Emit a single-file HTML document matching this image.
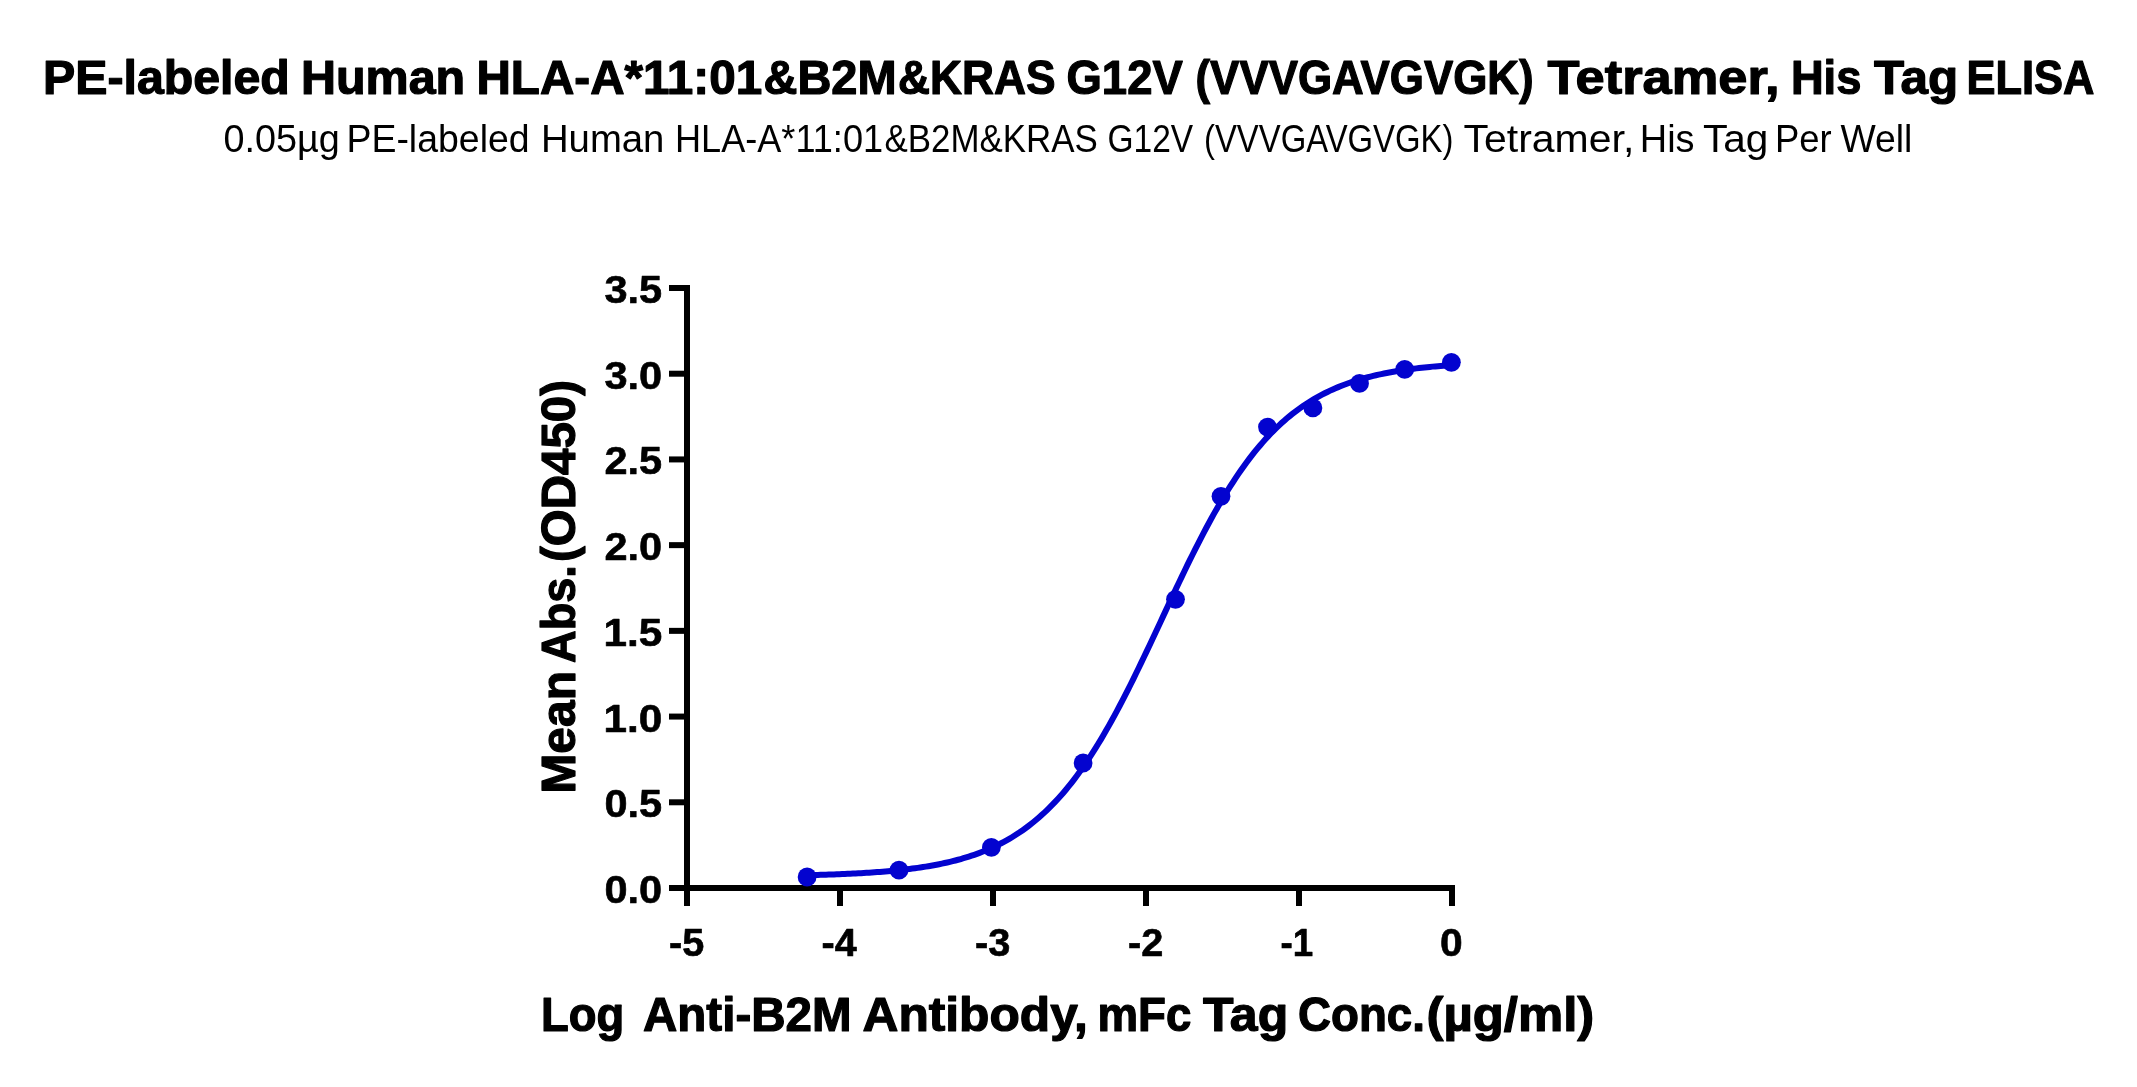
<!DOCTYPE html>
<html><head><meta charset="utf-8"><style>
html,body{margin:0;padding:0;background:#fff;overflow:hidden;}
svg{display:block;will-change:transform;}
text{font-family:"Liberation Sans",sans-serif;fill:#000;}
</style></head><body>
<svg width="2137" height="1087" viewBox="0 0 2137 1087">
<rect width="2137" height="1087" fill="#fff"/>
<g stroke="#000" stroke-width="6" fill="none"><line x1="687" y1="285" x2="687" y2="891"/><line x1="684" y1="888" x2="1455" y2="888"/><line x1="669" y1="888.00" x2="687" y2="888.00"/><line x1="669" y1="802.29" x2="687" y2="802.29"/><line x1="669" y1="716.57" x2="687" y2="716.57"/><line x1="669" y1="630.86" x2="687" y2="630.86"/><line x1="669" y1="545.14" x2="687" y2="545.14"/><line x1="669" y1="459.43" x2="687" y2="459.43"/><line x1="669" y1="373.71" x2="687" y2="373.71"/><line x1="669" y1="288.00" x2="687" y2="288.00"/><line x1="687.00" y1="888" x2="687.00" y2="906"/><line x1="840.00" y1="888" x2="840.00" y2="906"/><line x1="993.00" y1="888" x2="993.00" y2="906"/><line x1="1146.00" y1="888" x2="1146.00" y2="906"/><line x1="1299.00" y1="888" x2="1299.00" y2="906"/><line x1="1452.00" y1="888" x2="1452.00" y2="906"/></g>
<text x="42.99" y="93.65" font-size="47.46" font-weight="bold" stroke="#000" stroke-width="1.2" stroke-linejoin="round" textLength="246.84" lengthAdjust="spacingAndGlyphs">PE-labeled</text><text x="300.97" y="93.65" font-size="47.46" font-weight="bold" stroke="#000" stroke-width="1.2" stroke-linejoin="round" textLength="164.24" lengthAdjust="spacingAndGlyphs">Human</text><text x="476.51" y="93.65" font-size="47.46" font-weight="bold" stroke="#000" stroke-width="1.2" stroke-linejoin="round" textLength="285.62" lengthAdjust="spacingAndGlyphs">HLA-A*11:01</text><text x="763.47" y="93.65" font-size="47.46" font-weight="bold" stroke="#000" stroke-width="1.2" stroke-linejoin="round" textLength="133.14" lengthAdjust="spacingAndGlyphs">&amp;B2M</text><text x="898.01" y="93.65" font-size="47.46" font-weight="bold" stroke="#000" stroke-width="1.2" stroke-linejoin="round" textLength="157.60" lengthAdjust="spacingAndGlyphs">&amp;KRAS</text><text x="1066.50" y="93.65" font-size="47.46" font-weight="bold" stroke="#000" stroke-width="1.2" stroke-linejoin="round" textLength="116.29" lengthAdjust="spacingAndGlyphs">G12V</text><text x="1195.51" y="93.65" font-size="47.46" font-weight="bold" stroke="#000" stroke-width="1.2" stroke-linejoin="round" textLength="338.17" lengthAdjust="spacingAndGlyphs">(VVVGAVGVGK)</text><text x="1547.49" y="93.65" font-size="47.46" font-weight="bold" stroke="#000" stroke-width="1.2" stroke-linejoin="round" textLength="232.07" lengthAdjust="spacingAndGlyphs">Tetramer,</text><text x="1790.89" y="93.65" font-size="47.46" font-weight="bold" stroke="#000" stroke-width="1.2" stroke-linejoin="round" textLength="70.49" lengthAdjust="spacingAndGlyphs">His</text><text x="1874.00" y="93.65" font-size="47.46" font-weight="bold" stroke="#000" stroke-width="1.2" stroke-linejoin="round" textLength="84.16" lengthAdjust="spacingAndGlyphs">Tag</text><text x="1966.49" y="93.65" font-size="47.46" font-weight="bold" stroke="#000" stroke-width="1.2" stroke-linejoin="round" textLength="128.01" lengthAdjust="spacingAndGlyphs">ELISA</text><text x="223.47" y="151.70" font-size="39.40" textLength="116.32" lengthAdjust="spacingAndGlyphs">0.05µg</text><text x="346.47" y="151.70" font-size="39.40" textLength="183.11" lengthAdjust="spacingAndGlyphs">PE-labeled</text><text x="540.92" y="151.70" font-size="39.40" textLength="123.51" lengthAdjust="spacingAndGlyphs">Human</text><text x="674.99" y="151.70" font-size="39.40" textLength="208.09" lengthAdjust="spacingAndGlyphs">HLA-A*11:01</text><text x="884.51" y="151.70" font-size="39.40" textLength="213.20" lengthAdjust="spacingAndGlyphs">&amp;B2M&amp;KRAS</text><text x="1107.50" y="151.70" font-size="39.40" textLength="85.68" lengthAdjust="spacingAndGlyphs">G12V</text><text x="1204.00" y="151.70" font-size="39.40" textLength="249.39" lengthAdjust="spacingAndGlyphs">(VVVGAVGVGK)</text><text x="1463.49" y="151.70" font-size="39.40" textLength="170.86" lengthAdjust="spacingAndGlyphs">Tetramer,</text><text x="1639.79" y="151.70" font-size="39.40" textLength="54.81" lengthAdjust="spacingAndGlyphs">His</text><text x="1702.98" y="151.70" font-size="39.40" textLength="65.35" lengthAdjust="spacingAndGlyphs">Tag</text><text x="1774.89" y="151.70" font-size="39.40" textLength="56.72" lengthAdjust="spacingAndGlyphs">Per</text><text x="1840.48" y="151.70" font-size="39.40" textLength="71.96" lengthAdjust="spacingAndGlyphs">Well</text><text x="540.89" y="1031.00" font-size="47.38" font-weight="bold" stroke="#000" stroke-width="1.2" stroke-linejoin="round" textLength="83.29" lengthAdjust="spacingAndGlyphs">Log</text><text x="643.00" y="1031.00" font-size="47.38" font-weight="bold" stroke="#000" stroke-width="1.2" stroke-linejoin="round" textLength="208.60" lengthAdjust="spacingAndGlyphs">Anti-B2M</text><text x="862.50" y="1031.00" font-size="47.38" font-weight="bold" stroke="#000" stroke-width="1.2" stroke-linejoin="round" textLength="225.43" lengthAdjust="spacingAndGlyphs">Antibody,</text><text x="1097.47" y="1031.00" font-size="47.38" font-weight="bold" stroke="#000" stroke-width="1.2" stroke-linejoin="round" textLength="93.86" lengthAdjust="spacingAndGlyphs">mFc</text><text x="1203.00" y="1031.00" font-size="47.38" font-weight="bold" stroke="#000" stroke-width="1.2" stroke-linejoin="round" textLength="85.18" lengthAdjust="spacingAndGlyphs">Tag</text><text x="1297.97" y="1031.00" font-size="47.38" font-weight="bold" stroke="#000" stroke-width="1.2" stroke-linejoin="round" textLength="127.02" lengthAdjust="spacingAndGlyphs">Conc.</text><text x="1426.50" y="1031.00" font-size="47.38" font-weight="bold" stroke="#000" stroke-width="1.2" stroke-linejoin="round" textLength="167.79" lengthAdjust="spacingAndGlyphs">(µg/ml)</text><text transform="translate(574.50,793.56) rotate(-90)" font-size="47.38" font-weight="bold" stroke="#000" stroke-width="1.2" stroke-linejoin="round" textLength="122.46" lengthAdjust="spacingAndGlyphs">Mean</text><text transform="translate(574.50,663.01) rotate(-90)" font-size="47.38" font-weight="bold" stroke="#000" stroke-width="1.2" stroke-linejoin="round" textLength="97.95" lengthAdjust="spacingAndGlyphs">Abs.</text><text transform="translate(574.50,562.00) rotate(-90)" font-size="47.38" font-weight="bold" stroke="#000" stroke-width="1.2" stroke-linejoin="round" textLength="182.07" lengthAdjust="spacingAndGlyphs">(OD450)</text><text x="604.46" y="902.93" font-size="38.14" font-weight="bold" stroke="#000" stroke-width="0.6" stroke-linejoin="round" textLength="57.67" lengthAdjust="spacingAndGlyphs">0.0</text><text x="604.46" y="817.21" font-size="38.14" font-weight="bold" stroke="#000" stroke-width="0.6" stroke-linejoin="round" textLength="57.67" lengthAdjust="spacingAndGlyphs">0.5</text><text x="603.40" y="731.50" font-size="38.14" font-weight="bold" stroke="#000" stroke-width="0.6" stroke-linejoin="round" textLength="58.76" lengthAdjust="spacingAndGlyphs">1.0</text><text x="603.40" y="645.78" font-size="38.14" font-weight="bold" stroke="#000" stroke-width="0.6" stroke-linejoin="round" textLength="58.76" lengthAdjust="spacingAndGlyphs">1.5</text><text x="604.46" y="560.07" font-size="38.14" font-weight="bold" stroke="#000" stroke-width="0.6" stroke-linejoin="round" textLength="57.67" lengthAdjust="spacingAndGlyphs">2.0</text><text x="604.46" y="474.36" font-size="38.14" font-weight="bold" stroke="#000" stroke-width="0.6" stroke-linejoin="round" textLength="57.67" lengthAdjust="spacingAndGlyphs">2.5</text><text x="604.48" y="388.64" font-size="38.14" font-weight="bold" stroke="#000" stroke-width="0.6" stroke-linejoin="round" textLength="57.65" lengthAdjust="spacingAndGlyphs">3.0</text><text x="604.48" y="302.93" font-size="38.14" font-weight="bold" stroke="#000" stroke-width="0.6" stroke-linejoin="round" textLength="57.65" lengthAdjust="spacingAndGlyphs">3.5</text><text x="668.97" y="956.12" font-size="38.56" font-weight="bold" stroke="#000" stroke-width="0.6" stroke-linejoin="round" textLength="35.25" lengthAdjust="spacingAndGlyphs">-5</text><text x="821.46" y="956.12" font-size="38.56" font-weight="bold" stroke="#000" stroke-width="0.6" stroke-linejoin="round" textLength="35.22" lengthAdjust="spacingAndGlyphs">-4</text><text x="974.92" y="956.12" font-size="38.56" font-weight="bold" stroke="#000" stroke-width="0.6" stroke-linejoin="round" textLength="35.31" lengthAdjust="spacingAndGlyphs">-3</text><text x="1127.92" y="956.12" font-size="38.56" font-weight="bold" stroke="#000" stroke-width="0.6" stroke-linejoin="round" textLength="35.32" lengthAdjust="spacingAndGlyphs">-2</text><text x="1280.45" y="956.12" font-size="38.56" font-weight="bold" stroke="#000" stroke-width="0.6" stroke-linejoin="round" textLength="32.69" lengthAdjust="spacingAndGlyphs">-1</text><text x="1439.90" y="956.12" font-size="38.56" font-weight="bold" stroke="#000" stroke-width="0.6" stroke-linejoin="round" textLength="22.69" lengthAdjust="spacingAndGlyphs">0</text>
<polyline points="807.11,875.19 809.80,875.12 812.50,875.06 815.19,874.98 817.89,874.91 820.58,874.83 823.28,874.75 825.98,874.67 828.67,874.58 831.37,874.49 834.06,874.39 836.76,874.29 839.45,874.19 842.15,874.08 844.85,873.96 847.54,873.84 850.24,873.72 852.93,873.58 855.63,873.45 858.33,873.30 861.02,873.15 863.72,873.00 866.41,872.83 869.11,872.66 871.80,872.48 874.50,872.30 877.20,872.10 879.89,871.90 882.59,871.68 885.28,871.46 887.98,871.23 890.68,870.98 893.37,870.73 896.07,870.46 898.76,870.18 901.46,869.89 904.15,869.59 906.85,869.27 909.55,868.94 912.24,868.60 914.94,868.24 917.63,867.86 920.33,867.47 923.02,867.06 925.72,866.63 928.42,866.18 931.11,865.71 933.81,865.23 936.50,864.72 939.20,864.19 941.90,863.63 944.59,863.05 947.29,862.45 949.98,861.82 952.68,861.16 955.37,860.48 958.07,859.76 960.77,859.02 963.46,858.24 966.16,857.43 968.85,856.58 971.55,855.70 974.25,854.79 976.94,853.83 979.64,852.84 982.33,851.80 985.03,850.72 987.72,849.60 990.42,848.43 993.12,847.21 995.81,845.94 998.51,844.63 1001.20,843.26 1003.90,841.83 1006.59,840.35 1009.29,838.81 1011.99,837.21 1014.68,835.55 1017.38,833.82 1020.07,832.03 1022.77,830.18 1025.47,828.25 1028.16,826.25 1030.86,824.18 1033.55,822.03 1036.25,819.80 1038.94,817.50 1041.64,815.11 1044.34,812.64 1047.03,810.09 1049.73,807.45 1052.42,804.73 1055.12,801.91 1057.82,799.00 1060.51,796.00 1063.21,792.91 1065.90,789.72 1068.60,786.43 1071.29,783.05 1073.99,779.57 1076.69,775.99 1079.38,772.32 1082.08,768.54 1084.77,764.66 1087.47,760.68 1090.16,756.61 1092.86,752.43 1095.56,748.16 1098.25,743.79 1100.95,739.33 1103.64,734.77 1106.34,730.11 1109.04,725.37 1111.73,720.54 1114.43,715.62 1117.12,710.62 1119.82,705.53 1122.51,700.37 1125.21,695.14 1127.91,689.84 1130.60,684.47 1133.30,679.04 1135.99,673.55 1138.69,668.01 1141.39,662.42 1144.08,656.79 1146.78,651.12 1149.47,645.42 1152.17,639.69 1154.86,633.94 1157.56,628.18 1160.26,622.41 1162.95,616.63 1165.65,610.86 1168.34,605.10 1171.04,599.34 1173.73,593.61 1176.43,587.90 1179.13,582.23 1181.82,576.59 1184.52,570.99 1187.21,565.43 1189.91,559.93 1192.61,554.48 1195.30,549.10 1198.00,543.78 1200.69,538.52 1203.39,533.35 1206.08,528.24 1208.78,523.22 1211.48,518.28 1214.17,513.42 1216.87,508.66 1219.56,503.98 1222.26,499.39 1224.96,494.90 1227.65,490.51 1230.35,486.21 1233.04,482.01 1235.74,477.91 1238.43,473.91 1241.13,470.01 1243.83,466.20 1246.52,462.50 1249.22,458.89 1251.91,455.39 1254.61,451.98 1257.31,448.67 1260.00,445.46 1262.70,442.34 1265.39,439.32 1268.09,436.38 1270.78,433.54 1273.48,430.79 1276.18,428.13 1278.87,425.56 1281.57,423.07 1284.26,420.66 1286.96,418.34 1289.65,416.09 1292.35,413.92 1295.05,411.83 1297.74,409.81 1300.44,407.87 1303.13,405.99 1305.83,404.18 1308.53,402.44 1311.22,400.76 1313.92,399.15 1316.61,397.59 1319.31,396.10 1322.00,394.66 1324.70,393.27 1327.40,391.94 1330.09,390.66 1332.79,389.43 1335.48,388.25 1338.18,387.12 1340.88,386.02 1343.57,384.98 1346.27,383.97 1348.96,383.01 1351.66,382.08 1354.35,381.19 1357.05,380.34 1359.75,379.52 1362.44,378.73 1365.14,377.98 1367.83,377.26 1370.53,376.56 1373.22,375.90 1375.92,375.26 1378.62,374.65 1381.31,374.07 1384.01,373.51 1386.70,372.97 1389.40,372.45 1392.10,371.96 1394.79,371.49 1397.49,371.04 1400.18,370.60 1402.88,370.19 1405.57,369.79 1408.27,369.41 1410.97,369.04 1413.66,368.69 1416.36,368.36 1419.05,368.04 1421.75,367.73 1424.45,367.44 1427.14,367.16 1429.84,366.89 1432.53,366.63 1435.23,366.39 1437.92,366.15 1440.62,365.92 1443.32,365.71 1446.01,365.50 1448.71,365.30 1451.40,365.11" fill="none" stroke="#0303CF" stroke-width="6.0" stroke-linejoin="round"/><g fill="#0303CF"><circle cx="807.1" cy="877.0" r="9.4"/><circle cx="899" cy="870.2" r="9.4"/><circle cx="991.4" cy="847.3" r="9.4"/><circle cx="1083.1" cy="763.0" r="9.4"/><circle cx="1175.5" cy="599.3" r="9.4"/><circle cx="1221" cy="496.3" r="9.4"/><circle cx="1267.5" cy="427.1" r="9.4"/><circle cx="1312.9" cy="407.9" r="9.4"/><circle cx="1359.5" cy="383.4" r="9.4"/><circle cx="1404.7" cy="369.4" r="9.4"/><circle cx="1451.4" cy="362.3" r="9.4"/></g>
</svg>
</body></html>
